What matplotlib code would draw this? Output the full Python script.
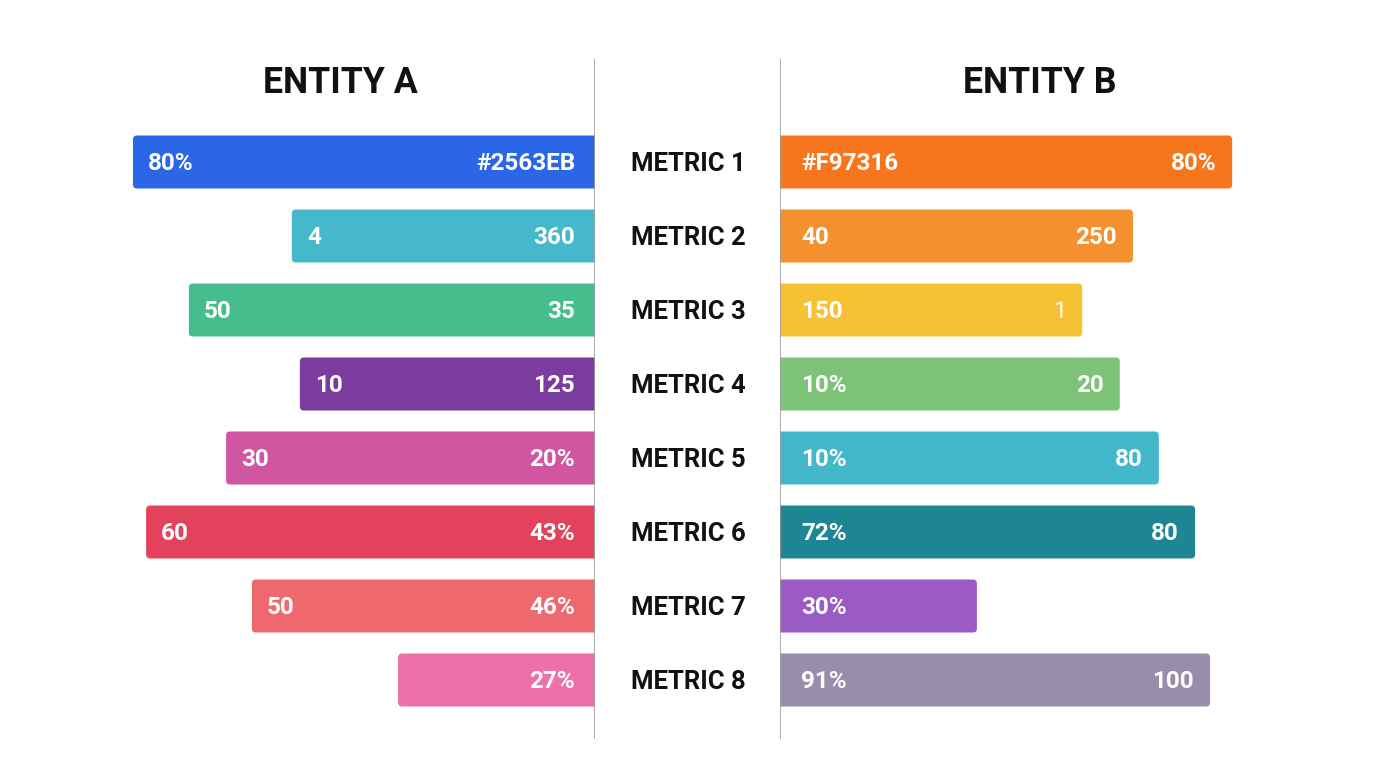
import matplotlib
matplotlib.use("Agg")
import matplotlib.pyplot as plt
import matplotlib.transforms as mtransforms
from matplotlib.patches import PathPatch
from matplotlib.path import Path

plt.rcParams['font.family'] = ['Roboto', 'DejaVu Sans']

metrics = ['METRIC 1', 'METRIC 2', 'METRIC 3', 'METRIC 4',
           'METRIC 5', 'METRIC 6', 'METRIC 7', 'METRIC 8']

# bar lengths (relative units)
a_values = [98.3, 64.5, 86.4, 62.8, 78.5, 95.5, 73.0, 41.9]
b_values = [96.2, 75.1, 64.3, 72.3, 80.6, 88.3, 41.9, 91.5]

# labels inside bars: (outer end, next to centre)
a_outer = ['80%', '4', '50', '10', '30', '60', '50', '']
a_inner = ['#2563EB', '360', '35', '125', '20%', '43%', '46%', '27%']
b_inner = ['#F97316', '40', '150', '10%', '10%', '72%', '30%', '91%']
b_outer = ['80%', '250', '1', '20', '80', '80', '', '100']

a_colors = ['#2A66E6', '#45B8CC', '#45BD8C', '#7C3B9E',
            '#D156A2', '#E3415C', '#EE686E', '#EE70AA']
b_colors = ['#F7751C', '#F5902E', '#F6C233', '#7CC377',
            '#44B8CB', '#1E8593', '#9A5BC5', '#988DAD']

W, H = 1376, 768
PX = 4.7          # pixels per value unit
ROW = 74          # pixels per row
TOP = 162         # pixel y of first row centre
CENTER_L, CENTER_R = 595, 780

fig = plt.figure(figsize=(W / 100, H / 100), dpi=100)
fig.patch.set_facecolor('white')

ylo = (H - TOP) / ROW
yhi = -TOP / ROW

ax_a = fig.add_axes([0, 0, CENTER_L / W, 1])
ax_a.set_xlim(CENTER_L / PX, 0)
ax_b = fig.add_axes([CENTER_R / W, 0, (W - CENTER_R) / W, 1])
ax_b.set_xlim(0, (W - CENTER_R) / PX)
for ax in (ax_a, ax_b):
    ax.set_ylim(ylo, yhi)
    ax.axis('off')
    ax.patch.set_alpha(0)

bar_h = 53 / ROW
rx = 4 / PX
ry = 4 / ROW
pt = 72 / 100  # points per pixel


def draw_bar(ax, i, val, color):
    # square at the centre line, rounded at the far end
    y0, y1 = i - bar_h / 2, i + bar_h / 2
    verts = [(0, y0), (val - rx, y0), (val, y0), (val, y0 + ry),
             (val, y1 - ry), (val, y1), (val - rx, y1), (0, y1), (0, y0)]
    codes = [Path.MOVETO, Path.LINETO, Path.CURVE3, Path.CURVE3,
             Path.LINETO, Path.CURVE3, Path.CURVE3, Path.LINETO, Path.CLOSEPOLY]
    ax.add_patch(PathPatch(Path(verts, codes), fc=color, ec='none', lw=0))


kw = dict(textcoords='offset points', va='center', color='white',
          fontsize=17.5, fontweight='bold')
dy = -2 * pt
for i in range(len(metrics)):
    draw_bar(ax_a, i, a_values[i], a_colors[i])
    draw_bar(ax_b, i, b_values[i], b_colors[i])

    ax_a.annotate(a_inner[i], (0, i), xytext=(-20 * pt, dy), ha='right', **kw)
    ax_a.annotate(a_outer[i], (a_values[i], i), xytext=(15 * pt, dy), ha='left', **kw)
    ax_b.annotate(b_inner[i], (0, i), xytext=(21 * pt, dy), ha='left', **kw)
    if b_outer[i] == '1':
        ax_b.annotate(b_outer[i], (b_values[i], i), xytext=(-16 * pt, dy), ha='right',
                      textcoords='offset points', va='center', color='white',
                      alpha=0.9, fontsize=17, fontweight='normal')
    else:
        ax_b.annotate(b_outer[i], (b_values[i], i), xytext=(-16 * pt, dy), ha='right', **kw)

# centre labels
trans = mtransforms.blended_transform_factory(fig.transFigure, ax_a.transData)
offset = mtransforms.ScaledTranslation(0, -2 / 100, fig.dpi_scale_trans)
for i, m in enumerate(metrics):
    fig.text(688 / W, i, m, transform=trans + offset, ha='center', va='center',
             fontsize=18.5, fontweight='bold', color='#111111')

# divider lines
for ax in (ax_a, ax_b):
    ax.axvline(0, ymin=1 - 738 / H, ymax=1 - 60 / H, color='#9E9E9E', lw=1.2)

fig.text(340 / W, 1 - 83 / H, 'ENTITY A', ha='center', va='center',
         fontsize=25.7, fontweight='bold', color='#111111')
fig.text(1040 / W, 1 - 83 / H, 'ENTITY B', ha='center', va='center',
         fontsize=25.7, fontweight='bold', color='#111111')

fig.savefig('out.png', dpi=100, facecolor='white')
